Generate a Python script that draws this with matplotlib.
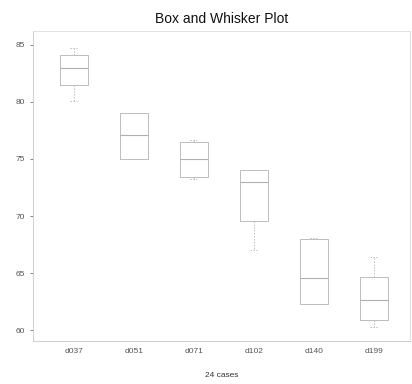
import matplotlib
matplotlib.use("Agg")
import matplotlib.pyplot as plt

plt.rcParams['font.family'] = ['Liberation Sans', 'DejaVu Sans']

# Box statistics (4 cases per group)
labels = ["d037", "d051", "d071", "d102", "d140", "d199"]
medians = [83.0, 77.1, 75.0, 73.0, 64.6, 62.6]
q1 = [81.5, 75.0, 73.4, 69.6, 62.3, 60.9]
q3 = [84.1, 79.0, 76.5, 74.0, 68.0, 64.7]
whis_lo = [80.1, 75.0, 73.2, 67.0, 62.3, 60.3]
whis_hi = [84.7, 79.0, 76.7, 74.0, 68.1, 66.4]

stats = []
for i in range(len(labels)):
    stats.append({"label": labels[i], "med": medians[i], "q1": q1[i], "q3": q3[i],
                  "whislo": whis_lo[i], "whishi": whis_hi[i], "fliers": []})

fig = plt.figure(figsize=(4.12, 3.84), dpi=100)
ax = fig.add_axes([0.08, 0.112, 0.915, 0.807])

line_col = "#bdbdbd"
ax.bxp(stats, widths=0.47, showfliers=False,
       boxprops=dict(color=line_col, linewidth=0.7),
       medianprops=dict(color="#b0b0b0", linewidth=0.8),
       whiskerprops=dict(color=line_col, linewidth=0.7, linestyle=(0, (1.5, 1.5))),
       capprops=dict(color=line_col, linewidth=0.7, linestyle=(0, (1.5, 1.5))),
       capwidths=0.12)

ax.set_xlim(0.32, 6.6)
ax.set_ylim(59.05, 86.2)
ax.set_yticks([60, 65, 70, 75, 80, 85])

for s in ["left", "bottom", "top", "right"]:
    ax.spines[s].set_color("#e2e2e2")
    ax.spines[s].set_linewidth(0.7)
ax.spines["left"].set_color("#cfcfcf")
ax.spines["bottom"].set_color("#cfcfcf")

ax.tick_params(axis="both", labelsize=6, colors="#555555", length=2, width=0.5)
ax.tick_params(axis="x", length=0, pad=5)

ax.set_title("Box and Whisker Plot", fontsize=10, color="#111111", pad=6)
ax.set_xlabel("24 cases", fontsize=6, color="#333333", labelpad=12)

fig.savefig("out.png", dpi=100)
